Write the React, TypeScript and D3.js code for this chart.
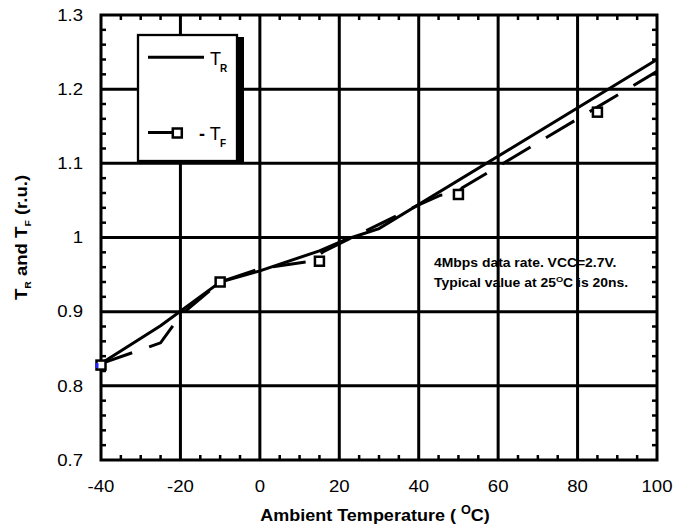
import React from "react";
import * as d3 from "d3";

const W = 688;
const H = 529;

// axis ticks
const xTicks = [-40, -20, 0, 20, 40, 60, 80, 100];
const yTicks = [0.7, 0.8, 0.9, 1, 1.1, 1.2, 1.3];

// T_R (solid)
const trTemp = [-40, -25, -10, 0, 15, 22, 30, 100];
const trValue = [0.83, 0.881, 0.94, 0.955, 0.982, 0.998, 1.012, 1.24];

// T_F (dashed)
const tfTemp = [-40, -25, -20, -10, 0, 13, 16, 40, 45.5, 49.5, 51, 100];
const tfValue = [0.83, 0.858, 0.895, 0.94, 0.958, 0.968, 0.981, 1.044, 1.057, 1.059, 1.067, 1.224];

// T_F markers
const tfMarkTemp = [-40, -10, 15, 50, 85];
const tfMarkValue = [0.828, 0.94, 0.968, 1.058, 1.169];

const FONT = "'Liberation Sans', Arial, Helvetica, sans-serif";
const SX = 1.16; // text in the picture is a bit wide

const x = d3.scaleLinear().domain([-40, 100]).range([101, 657]);
const y = d3.scaleLinear().domain([0.7, 1.3]).range([460, 15]);

type Pt = [number, number];
const zip = (a: number[], b: number[]): Pt[] => a.map((v, i) => [v, b[i]]);

const line = d3
  .line<Pt>()
  .x((d) => x(d[0]))
  .y((d) => y(d[1]));

export default function App() {
  const [x0, x1] = x.range();
  const [y0, y1] = y.range();

  const xMinor = d3.range(-35, 100, 5).filter((v) => v % 20 !== 0);
  const yMinor = d3
    .range(36, 65)
    .filter((i) => i % 5 !== 0)
    .map((i) => i / 50);
  const tick = 5;
  const ms = 9; // marker size

  return (
    <div style={{ position: "absolute", left: 0, top: 0 }}>
      <svg width={W} height={H} style={{ display: "block", background: "#fff" }} fontFamily={FONT}>
        {/* annotation */}
        <g fontWeight="bold" fontSize={12}>
          <text transform={`translate(434,266.7) scale(${SX},1)`}>4Mbps data rate. VCC=2.7V.</text>
          <text transform={`translate(434,287.3) scale(${SX},1)`}>
            Typical value at 25
            <tspan fontSize={8} dy={-5}>O</tspan>
            <tspan dy={5}>C is 20ns.</tspan>
          </text>
        </g>

        {/* grid */}
        <g stroke="#000" strokeWidth={3}>
          {xTicks.slice(1, -1).map((t) => (
            <line key={"gx" + t} x1={x(t)} x2={x(t)} y1={y1} y2={y0} />
          ))}
          {yTicks.slice(1, -1).map((t) => (
            <line key={"gy" + t} x1={x0} x2={x1} y1={y(t)} y2={y(t)} />
          ))}
        </g>

        {/* minor ticks */}
        <g stroke="#000" strokeWidth={2.5}>
          {xMinor.map((t) => (
            <g key={"mx" + t}>
              <line x1={x(t)} x2={x(t)} y1={y0} y2={y0 - tick} />
              <line x1={x(t)} x2={x(t)} y1={y1} y2={y1 + tick} />
            </g>
          ))}
          {yMinor.map((t) => (
            <g key={"my" + t}>
              <line x1={x0} x2={x0 + tick} y1={y(t)} y2={y(t)} />
              <line x1={x1} x2={x1 - tick} y1={y(t)} y2={y(t)} />
            </g>
          ))}
        </g>

        {/* frame */}
        <rect x={x0} y={y1} width={x1 - x0} height={y0 - y1} fill="none" stroke="#000" strokeWidth={3} />

        {/* series */}
        <path d={line(zip(trTemp, trValue)) ?? ""} fill="none" stroke="#000" strokeWidth={3} />
        <path
          d={line(zip(tfTemp, tfValue)) ?? ""}
          fill="none"
          stroke="#000"
          strokeWidth={3}
          strokeDasharray="33,18"
        />
        {zip(tfMarkTemp, tfMarkValue).map((d, i) => (
          <g key={"m" + i}>
            <rect
              x={x(d[0]) - ms / 2}
              y={y(d[1]) - ms / 2}
              width={ms}
              height={ms}
              fill="#fff"
              stroke="#000"
              strokeWidth={2.5}
            />
            {i === 0 && (
              <rect x={x(d[0]) - ms / 2 - 1} y={y(d[1]) - 2} width={3} height={5} fill="#2424ff" />
            )}
          </g>
        ))}

        {/* legend */}
        <rect x={140} y={37} width={104} height={127} fill="#000" />
        <rect x={138} y={35} width={99} height={126} fill="#fff" stroke="#000" strokeWidth={2.3} />
        <line x1={148} x2={204} y1={57.3} y2={57.3} stroke="#000" strokeWidth={3} />
        <text x={210} y={65} fontSize={18}>T</text>
        <text x={220} y={72} fontSize={10} fontWeight="bold">R</text>
        <line x1={148} x2={173} y1={132.5} y2={132.5} stroke="#000" strokeWidth={3} />
        <rect x={172.8} y={128.5} width={ms} height={ms} fill="#fff" stroke="#000" strokeWidth={2.5} />
        <text x={199} y={140} fontSize={18}>
          <tspan fontWeight="bold">-</tspan> T
        </text>
        <text x={220} y={147} fontSize={10} fontWeight="bold">F</text>

        {/* x tick labels */}
        <g fontSize={16} textAnchor="middle">
          {xTicks.map((t) => (
            <text key={"xl" + t} transform={`translate(${x(t)},491.5) scale(${SX},1)`}>
              {t}
            </text>
          ))}
        </g>
        {/* y tick labels */}
        <g fontSize={16} textAnchor="end">
          {yTicks.map((t) => (
            <text key={"yl" + t} transform={`translate(83,${y(t) + 5.8}) scale(${SX},1)`}>
              {t}
            </text>
          ))}
        </g>

        {/* axis titles */}
        <text
          transform={`translate(${(x0 + x1) / 2 - 4},521) scale(1.06,1)`}
          textAnchor="middle"
          fontSize={17}
          fontWeight="bold"
        >
          Ambient Temperature ({" "}
          <tspan fontSize={12} dy={-7}>O</tspan>
          <tspan dy={7}>C)</tspan>
        </text>
        <text
          transform={`translate(27,${(y0 + y1) / 2}) rotate(-90) scale(${SX},1)`}
          textAnchor="middle"
          fontSize={16}
          fontWeight="bold"
        >
          T<tspan fontSize={9} dy={4}>R</tspan>
          <tspan dy={-4}> and T</tspan>
          <tspan fontSize={9} dy={4}>F</tspan>
          <tspan dy={-4}> (r.u.)</tspan>
        </text>
      </svg>
    </div>
  );
}
